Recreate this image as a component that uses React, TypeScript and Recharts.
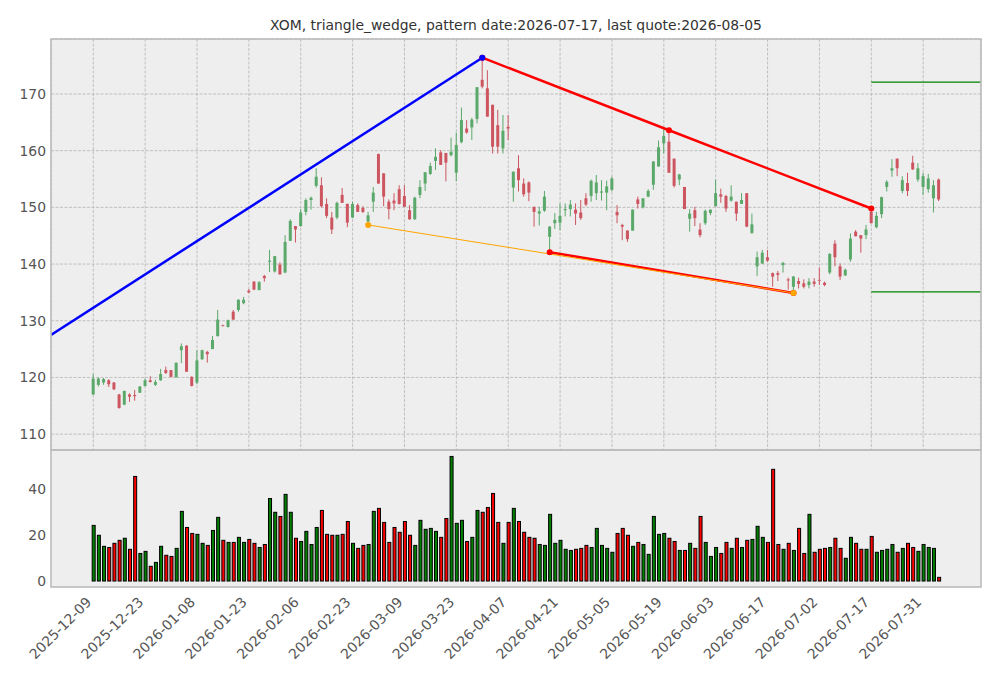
import React from "react";
import { ComposedChart, Bar, Line, XAxis, YAxis, CartesianGrid } from "recharts";

// trading-day index of each date label (one tick every 10 sessions)
const TICK_INDEX = [0, 10, 20, 30, 40, 50, 60, 70, 80, 90, 100, 110, 120, 130, 140, 150, 160];
const TICK_LABELS = [
    "2025-12-09", "2025-12-23", "2026-01-08", "2026-01-23", "2026-02-06", "2026-02-23",
    "2026-03-09", "2026-03-23", "2026-04-07", "2026-04-21", "2026-05-05", "2026-05-19",
    "2026-06-03", "2026-06-17", "2026-07-02", "2026-07-17", "2026-07-31",
];
const PRICE_TICKS = [110, 120, 130, 140, 150, 160, 170];
const VOLUME_TICKS = [0, 20, 40];

// daily OHLC, 2025-12-09 .. 2026-08-05
const OPEN = [
    117.0, 118.7, 119.1, 119.5, 119.1, 117.0, 115.2, 117.0, 116.9, 117.3,
    118.5, 119.5, 118.7, 119.5, 121.3, 121.3, 120.0, 124.8, 125.6, 120.1,
    119.1, 123.2, 124.5, 125.0, 127.3, 129.2, 128.9, 131.6, 131.9, 133.1,
    135.3, 136.9, 135.4, 137.9, 140.4, 138.7, 139.9, 138.5, 144.1, 146.7,
    146.7, 149.2, 151.3, 153.8, 153.9, 150.6, 148.2, 148.2, 152.2, 150.6,
    148.2, 150.4, 149.9, 147.5, 151.0, 159.4, 156.0, 151.0, 151.2, 153.2,
    152.0, 149.5, 147.9, 152.2, 154.2, 155.9, 158.2, 159.7, 159.6, 159.2,
    156.1, 161.5, 163.9, 164.1, 165.6, 172.5, 171.0, 168.1, 164.5, 160.4,
    164.2, 153.5, 156.9, 154.2, 154.4, 150.1, 148.9, 149.4, 144.8, 147.2,
    147.3, 149.5, 149.7, 149.6, 149.1, 151.6, 152.0, 152.5, 152.6, 152.6,
    153.1, 149.2, 146.9, 145.9, 145.9, 151.4, 150.0, 151.9, 154.0, 157.2,
    161.3, 161.6, 158.6, 154.9, 153.6, 148.0, 149.5, 146.1, 147.2, 149.0,
    150.2, 152.3, 152.0, 151.2, 151.0, 150.6, 152.5, 145.5, 139.6, 140.1,
    141.2, 138.4, 138.4, 139.8, 137.3, 136.0, 137.0, 136.6, 136.3, 136.9,
    137.2, 136.7, 138.5, 143.6, 139.6, 138.0, 140.8, 145.7, 145.1, 145.1,
    149.2, 146.5, 148.8, 153.6, 156.5, 158.6, 152.9, 154.3, 157.9, 154.9,
    153.6, 153.2, 151.6, 154.9,
];
const HIGH = [
    120.6, 120.0, 119.9, 119.7, 119.2, 117.1, 117.7, 117.2, 117.8, 118.5,
    119.8, 120.2, 119.6, 121.5, 121.9, 121.3, 122.6, 126.0, 125.7, 120.2,
    124.8, 124.9, 124.7, 127.3, 131.9, 129.3, 130.2, 131.9, 133.8, 134.2,
    135.6, 137.0, 137.0, 138.1, 142.5, 141.4, 140.3, 145.1, 147.9, 146.7,
    149.7, 151.6, 151.9, 156.9, 155.3, 151.6, 149.2, 151.0, 153.4, 150.7,
    151.0, 150.7, 150.2, 149.2, 153.6, 159.5, 156.0, 151.4, 152.5, 153.9,
    153.9, 150.4, 151.9, 154.8, 156.2, 157.9, 160.4, 160.1, 159.6, 162.3,
    163.2, 167.6, 165.4, 165.8, 171.2, 176.4, 174.2, 168.1, 167.2, 166.3,
    166.3, 156.3, 159.2, 155.1, 154.6, 150.1, 150.1, 152.9, 146.7, 149.0,
    150.7, 150.7, 151.3, 150.7, 151.3, 152.5, 154.9, 155.7, 154.8, 154.7,
    155.4, 150.4, 147.1, 146.0, 149.6, 151.9, 151.6, 153.2, 158.1, 161.8,
    163.7, 163.6, 158.6, 155.9, 153.6, 149.7, 150.1, 147.2, 149.6, 149.6,
    154.9, 153.3, 152.2, 153.9, 151.0, 152.5, 152.5, 148.9, 142.2, 142.5,
    142.5, 138.5, 138.8, 140.4, 137.6, 137.9, 137.6, 137.3, 137.5, 137.5,
    139.4, 136.9, 141.9, 144.2, 140.1, 139.2, 145.4, 146.0, 145.1, 146.9,
    149.8, 149.2, 151.9, 154.8, 158.5, 158.6, 155.5, 156.1, 159.1, 157.8,
    156.1, 155.9, 154.8, 155.1,
];
const LOW = [
    116.9, 118.4, 118.7, 118.3, 117.8, 114.5, 115.1, 115.7, 115.9, 117.3,
    118.4, 119.1, 118.5, 119.4, 120.6, 120.0, 120.0, 122.5, 121.0, 118.4,
    118.8, 123.1, 122.6, 125.0, 127.2, 129.0, 128.8, 130.1, 131.6, 132.9,
    134.9, 135.4, 135.4, 136.9, 138.6, 138.5, 138.1, 138.4, 144.1, 143.8,
    146.6, 148.6, 149.6, 153.5, 150.0, 148.1, 145.3, 147.9, 150.8, 146.5,
    148.1, 149.2, 149.0, 146.9, 149.2, 154.2, 150.2, 147.9, 149.5, 150.5,
    150.1, 147.8, 147.8, 151.6, 152.9, 155.7, 156.6, 157.5, 154.6, 159.0,
    154.6, 161.3, 163.0, 161.9, 164.8, 171.0, 166.0, 159.5, 159.5, 159.5,
    161.9, 151.0, 152.8, 151.9, 151.1, 146.6, 146.8, 149.2, 142.1, 146.2,
    146.0, 148.4, 148.4, 146.9, 147.8, 150.2, 151.0, 151.3, 151.2, 149.5,
    152.8, 147.2, 144.2, 143.9, 145.9, 149.8, 149.8, 151.8, 153.1, 157.2,
    159.5, 156.1, 153.5, 153.9, 149.7, 145.7, 146.7, 144.7, 146.9, 148.6,
    150.2, 150.8, 149.2, 151.0, 147.6, 150.6, 146.5, 145.3, 137.9, 140.0,
    140.4, 136.0, 137.0, 138.5, 135.5, 134.9, 135.7, 135.7, 135.7, 136.0,
    136.3, 136.1, 138.2, 139.6, 137.2, 137.9, 140.4, 144.9, 142.0, 144.4,
    147.2, 146.3, 148.1, 152.8, 155.4, 155.5, 152.5, 152.0, 156.6, 154.5,
    152.2, 152.6, 149.1, 151.1,
];
const CLOSE = [
    119.8, 119.8, 119.7, 118.8, 117.9, 114.6, 117.6, 116.6, 116.7, 118.4,
    119.5, 119.2, 119.2, 120.6, 120.8, 120.1, 122.6, 125.5, 121.0, 118.5,
    123.0, 124.8, 124.1, 126.6, 130.2, 129.1, 130.1, 130.2, 133.7, 133.7,
    135.0, 135.5, 136.8, 137.5, 140.6, 141.4, 138.2, 143.9, 147.6, 146.1,
    149.1, 151.3, 151.7, 155.4, 150.2, 148.5, 146.1, 150.8, 150.8, 147.3,
    150.6, 149.2, 149.2, 148.6, 152.6, 154.2, 151.9, 149.7, 150.7, 150.6,
    150.1, 147.9, 151.7, 153.6, 156.2, 157.3, 158.9, 157.5, 157.9, 159.8,
    161.0, 165.4, 163.2, 165.5, 171.2, 171.3, 166.0, 160.7, 160.7, 163.5,
    163.9, 156.3, 154.8, 152.3, 152.6, 149.2, 149.3, 151.9, 146.6, 147.8,
    148.5, 149.7, 150.5, 148.9, 148.1, 150.5, 154.7, 154.4, 152.8, 153.7,
    155.1, 148.6, 146.6, 144.4, 149.6, 150.6, 151.6, 152.9, 158.1, 160.6,
    162.6, 156.1, 153.8, 155.8, 149.7, 148.9, 148.1, 145.1, 149.4, 149.6,
    152.5, 151.9, 149.8, 151.9, 148.9, 151.3, 146.6, 147.0, 141.2, 142.0,
    140.6, 137.8, 138.1, 140.2, 137.1, 137.8, 136.5, 136.0, 136.9, 136.5,
    137.1, 136.3, 141.8, 141.2, 137.8, 139.0, 144.5, 144.9, 144.5, 146.1,
    147.2, 148.5, 151.8, 154.5, 156.9, 156.9, 154.8, 152.9, 156.7, 156.9,
    155.5, 155.1, 153.9, 151.4,
];
const VOLUME = [
    24.2, 19.9, 15.1, 14.6, 16.4, 17.7, 18.6, 13.8, 45.5, 12.0,
    12.9, 6.4, 8.1, 15.1, 11.2, 10.7, 14.2, 30.3, 23.3, 20.7,
    20.3, 16.4, 15.5, 22.0, 27.7, 17.7, 16.8, 16.8, 19.0, 16.8,
    18.1, 16.4, 14.6, 15.9, 35.9, 29.9, 28.1, 37.7, 29.9, 18.6,
    17.2, 21.6, 15.9, 23.3, 30.7, 20.3, 19.9, 19.9, 20.3, 25.9,
    16.4, 14.2, 15.5, 15.9, 30.3, 31.6, 25.5, 16.8, 23.3, 21.2,
    25.9, 19.9, 15.5, 26.4, 22.5, 22.9, 21.6, 19.0, 27.2, 54.2,
    25.1, 26.4, 17.2, 19.0, 30.7, 29.9, 32.0, 38.1, 25.5, 16.4,
    25.5, 31.6, 25.9, 21.2, 19.0, 18.6, 15.9, 15.5, 29.0, 16.4,
    17.7, 13.8, 13.3, 13.8, 14.2, 15.5, 14.6, 22.9, 15.5, 14.2,
    12.5, 20.7, 22.9, 19.9, 15.1, 16.8, 15.9, 11.6, 28.1, 20.3,
    20.7, 18.6, 17.2, 13.3, 13.3, 16.4, 14.2, 28.1, 16.8, 10.7,
    14.6, 12.0, 16.8, 14.2, 18.6, 14.6, 17.7, 18.1, 23.8, 19.0,
    16.8, 48.6, 15.9, 13.8, 16.4, 13.3, 22.9, 12.0, 29.0, 12.5,
    13.8, 14.2, 14.6, 18.6, 14.2, 9.9, 19.0, 16.4, 13.8, 13.8,
    19.4, 12.5, 13.3, 13.8, 15.9, 12.5, 14.2, 16.4, 14.6, 12.9,
    15.9, 14.6, 14.2, 1.6,
];

// pattern lines (index, price)
const RISE_LINE = [{ i: -8.15, p: 127.5 }, { i: 75, p: 176.4 }];
const UPPER_LINE = [{ i: 75, p: 176.4 }, { i: 111, p: 163.6 }, { i: 150, p: 149.8 }];
const LOWER_LINE = [{ i: 88, p: 142.1 }, { i: 135, p: 134.9 }];
const BASE_LINE = [{ i: 53, p: 146.9 }, { i: 135, p: 134.9 }];
const TARGET_UP = [{ i: 150, p: 172.1 }, { i: 171.15, p: 172.1 }];
const TARGET_DOWN = [{ i: 150, p: 135.1 }, { i: 171.15, p: 135.1 }];

const X_DOMAIN: [number, number] = [-8.15, 171.15];
const UP = "#5aa86a";
const DOWN = "#cc5560";
const FONT = "'DejaVu Sans', sans-serif";
const FONT_SIZE = 13.9;

const rows = OPEN.map((o, i) => ({
    i,
    open: o,
    high: HIGH[i],
    low: LOW[i],
    close: CLOSE[i],
    range: [LOW[i], HIGH[i]],
    volume: VOLUME[i],
}));

const Candle = (props: any) => {
    const { x, y, width, height, payload } = props;
    const { open, close, high, low } = payload;
    const top = Math.min(y, y + height);
    const h = Math.abs(height);
    const ppu = h / (high - low || 1);
    const yOf = (v: number) => top + (high - v) * ppu;
    const cx = x + width / 2;
    const b0 = yOf(Math.max(open, close));
    const b1 = yOf(Math.min(open, close));
    const color = close >= open ? UP : DOWN;
    return (
        <g>
            <line x1={cx} x2={cx} y1={top} y2={top + h} stroke={color} strokeWidth={1} />
            <rect x={cx - 1.5} y={b0} width={3} height={Math.max(b1 - b0, 0.8)} fill={color} />
        </g>
    );
};

const VolumeBar = (props: any) => {
    const { x, y, width, height, payload } = props;
    const color = payload.close >= payload.open ? "#008000" : "#ff0000";
    return (
        <rect x={x + 0.5} y={y} width={width - 1} height={height}
            fill={color} stroke="#000" strokeWidth={1} />
    );
};

const DateTick = (props: any) => {
    const { x, y, payload } = props;
    const label = TICK_LABELS[TICK_INDEX.indexOf(payload.value)] ?? "";
    return (
        <text transform={`translate(${x - 1},${y + 14}) rotate(-45)`} textAnchor="end"
            fill="#555" fontSize={FONT_SIZE} fontFamily={FONT}>
            {label}
        </text>
    );
};

// price panel keeps its x ticks (for the grid) but draws no labels
const NoTick = () => <g />;

const apexDot = (p: any) =>
    p.index === 1
        ? <circle key={`rise-${p.index}`} cx={p.cx} cy={p.cy} r={3} fill="blue" />
        : <g key={`rise-${p.index}`} />;

export default function App() {
    const tick = { fill: "#555", fontSize: FONT_SIZE, fontFamily: FONT };
    return (
        <div style={{ position: "absolute", left: 0, top: 0, width: 1001, height: 678, background: "#fff", fontFamily: FONT }}>
            <div style={{ position: "absolute", left: 51, top: 17, width: 930, textAlign: "center", fontSize: FONT_SIZE, color: "#333" }}>
                XOM, triangle_wedge, pattern date:2026-07-17, last quote:2026-08-05
            </div>

            {/* price panel */}
            <div style={{ position: "absolute", left: 0, top: 0 }}>
                <ComposedChart width={1001} height={450} data={rows} margin={{ top: 39, right: 20, bottom: 0, left: 0 }}>
                    <CartesianGrid stroke="#b4b4b4" strokeDasharray="3 1.5" strokeWidth={0.8} fill="#eeeeee" />
                    <XAxis dataKey="i" type="number" domain={X_DOMAIN} ticks={TICK_INDEX} height={0}
                        tick={<NoTick />} tickLine={false} axisLine={false} allowDataOverflow />
                    <YAxis type="number" domain={[107.2, 179.7]} ticks={PRICE_TICKS} width={51}
                        tickLine={false} axisLine={false} tickSize={3} tickMargin={2} tick={tick} allowDataOverflow />
                    <Bar dataKey="range" barSize={3} shape={<Candle />} isAnimationActive={false} />
                    <Line data={UPPER_LINE} dataKey="p" stroke="red" strokeWidth={2.5}
                        dot={{ r: 3, fill: "red", stroke: "none" }} isAnimationActive={false} />
                    <Line data={RISE_LINE} dataKey="p" stroke="blue" strokeWidth={2.5}
                        dot={apexDot} isAnimationActive={false} />
                    <Line data={LOWER_LINE} dataKey="p" stroke="red" strokeWidth={2.5}
                        dot={{ r: 3, fill: "red", stroke: "none" }} isAnimationActive={false} />
                    <Line data={BASE_LINE} dataKey="p" stroke="orange" strokeWidth={1}
                        dot={{ r: 3, fill: "orange", stroke: "none" }} isAnimationActive={false} />
                    <Line data={TARGET_UP} dataKey="p" stroke="green" strokeWidth={1.3} dot={false} isAnimationActive={false} />
                    <Line data={TARGET_DOWN} dataKey="p" stroke="green" strokeWidth={1.3} dot={false} isAnimationActive={false} />
                </ComposedChart>
            </div>

            {/* volume panel */}
            <div style={{ position: "absolute", left: 0, top: 450 }}>
                <ComposedChart width={1001} height={228} data={rows} margin={{ top: 0, right: 20, bottom: 0, left: 0 }}>
                    <CartesianGrid horizontal={false} vertical={false} fill="#eeeeee" />
                    <XAxis dataKey="i" type="number" domain={X_DOMAIN} ticks={TICK_INDEX} height={91}
                        tick={<DateTick />} tickLine={false} axisLine={false} tickSize={0} allowDataOverflow />
                    <YAxis type="number" domain={[-2.6, 57]} ticks={VOLUME_TICKS} width={51}
                        tickLine={false} axisLine={false} tickSize={3} tickMargin={2} tick={tick} allowDataOverflow />
                    <Bar dataKey="volume" barSize={4} shape={<VolumeBar />} isAnimationActive={false} />
                </ComposedChart>
            </div>

            {/* axes frames */}
            <svg width={1001} height={678} style={{ position: "absolute", left: 0, top: 0, pointerEvents: "none" }}>
                <rect x={51} y={39} width={930} height={411} fill="none" stroke="#bcbcbc" strokeWidth={1.6} />
                <rect x={51} y={450} width={930} height={137} fill="none" stroke="#bcbcbc" strokeWidth={1.6} />
            </svg>
        </div>
    );
}
